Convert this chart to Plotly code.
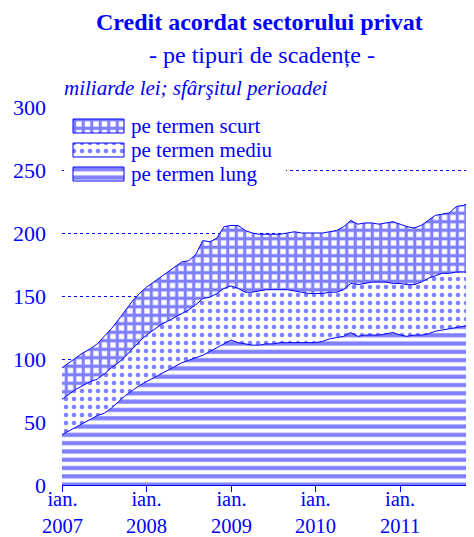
import plotly.graph_objects as go

# months since Jan 2007 (Jan 2007 .. Dec 2011)
months = list(range(60))
tick_months = [0, 12, 24, 36, 48]
tick_labels = ["ian.<br>2007", "ian.<br>2008", "ian.<br>2009", "ian.<br>2010", "ian.<br>2011"]

# miliarde lei
lung = [40, 43, 46, 49, 52, 55, 57, 61, 66, 71, 75, 79, 82, 85, 88, 91, 94, 97, 99, 101,
        103, 106, 109, 112, 115, 113, 112, 111, 111, 112, 112, 113, 113, 113, 113, 113, 113, 114, 116, 117,
        118, 121, 118, 119, 119, 119, 120, 121, 119, 118, 119, 119, 120, 122, 123, 124, 125, 126, 127, 127]
mediu = [28, 29, 30, 30, 30, 29, 31, 32, 31, 31, 33, 35, 37, 38, 39, 39, 39, 39, 40, 42,
         45, 43, 43, 44, 43, 43, 41, 42, 43, 43, 43, 42, 42, 41, 40, 39, 39, 38, 37, 36,
         37, 39, 41, 41, 42, 42, 41, 39, 41, 41, 40, 42, 44, 44, 45, 44, 44, 43, 42, 43]
scurt = [25, 25, 25, 26, 26, 28, 30, 31, 34, 37, 38, 38, 38, 38, 38, 39, 40, 41, 39, 40,
         46, 44, 44, 49, 48, 50, 49, 47, 45, 44, 44, 44, 45, 47, 47, 48, 48, 48, 48, 49,
         50, 50, 48, 48, 47, 46, 47, 49, 47, 46, 45, 45, 46, 48, 47, 48, 52, 53, 55, 54]

series_names = ["pe termen lung", "pe termen mediu", "pe termen scurt"]

BLUE = "#0000FF"
FONT = "Liberation Serif"

patterns = [
    dict(shape="-", fgcolor=BLUE, bgcolor="white", size=8.3, solidity=0.5),
    dict(shape=".", fgcolor=BLUE, bgcolor="white", size=8, solidity=0.25),
    dict(shape="+", fgcolor=BLUE, bgcolor="white", size=8.5, solidity=0.6),
]

fig = go.Figure()
for vals, name, pat in zip([lung, mediu, scurt], series_names, patterns):
    fig.add_trace(go.Scatter(
        x=months, y=vals, name=name, stackgroup="one", mode="lines",
        line=dict(color=BLUE, width=1), fillpattern=pat, showlegend=False,
        hoverinfo="skip",
    ))

# custom legend (swatch boxes on an overlay axis measured in pixels of the plot area)
legend_rows = [(series_names[2], patterns[2], 126),
               (series_names[1], patterns[1], 150),
               (series_names[0], patterns[0], 174)]
annotations = []
for name, pat, yc in legend_rows:
    x0, x1, y0, y1 = 73, 124, yc - 7, yc + 7
    fig.add_trace(go.Scatter(
        x=[x0, x1, x1, x0, x0], y=[y0, y0, y1, y1, y0], xaxis="x2", yaxis="y2",
        mode="lines", fill="toself", fillpattern=pat, line=dict(color=BLUE, width=1),
        showlegend=False, hoverinfo="skip",
    ))
    annotations.append(dict(text=name, xref="x2", yref="y2", x=129, y=yc,
                            xanchor="left", yanchor="middle", showarrow=False,
                            font=dict(family=FONT, size=21, color=BLUE)))

for tv, tl in zip(tick_months, tick_labels):
    annotations.append(dict(text=tl, xref="x", yref="paper", x=tv, y=0, yshift=-27,
                            xanchor="center", yanchor="middle", showarrow=False,
                            font=dict(family=FONT, size=20.5, color=BLUE)))

annotations += [
    dict(text="<b>Credit acordat sectorului privat</b>", xref="paper", yref="paper",
         x=0.48, y=1.0, yshift=85, xanchor="center", yanchor="middle",
         showarrow=False, font=dict(family=FONT, size=24, color=BLUE)),
    dict(text="- pe tipuri de scadențe -", xref="paper", yref="paper",
         x=0.485, y=1.0, yshift=52, xanchor="center", yanchor="middle",
         showarrow=False, font=dict(family=FONT, size=24, color=BLUE)),
    dict(text="<i>miliarde lei; sfârşitul perioadei</i>", xref="paper", yref="paper",
         x=0.0, y=1.0, yshift=19, xanchor="left", yanchor="middle",
         showarrow=False, font=dict(family=FONT, size=21, color=BLUE)),
]

# page has an 8px body margin, so the figure is placed 8px right/down
fig.update_layout(
    width=466, height=537,
    margin=dict(l=54, r=0, t=99, b=60, autoexpand=False),
    paper_bgcolor="white", plot_bgcolor="white",
    font=dict(family=FONT, color=BLUE, size=19),
    showlegend=False,
    annotations=annotations,
    shapes=[dict(type="rect", xref="x", yref="y", x0=0.3, x1=31.8, y0=233, y1=296,
                 fillcolor="white", line=dict(width=0), layer="between")],
    xaxis2=dict(overlaying="x", range=[62, 474], visible=False, fixedrange=True),
    yaxis2=dict(overlaying="y", range=[485, 107], visible=False, fixedrange=True),
)
fig.update_layout(xaxis=dict(
    range=[0, 58.5], tickvals=tick_months, showticklabels=False,
    showgrid=False, zeroline=False, automargin=False,
    showline=True, linecolor=BLUE, linewidth=1,
    ticks="outside", ticklen=6, tickcolor=BLUE,
))
fig.update_layout(yaxis=dict(
    range=[0, 300], dtick=50, tick0=0, automargin=False,
    showgrid=True, gridcolor=BLUE, griddash="dot", gridwidth=0.6,
    zeroline=False, showline=False,
    tickfont=dict(family=FONT, size=22, color=BLUE),
    ticks="", ticklabelstandoff=15,
))

fig.write_html("out.html")
